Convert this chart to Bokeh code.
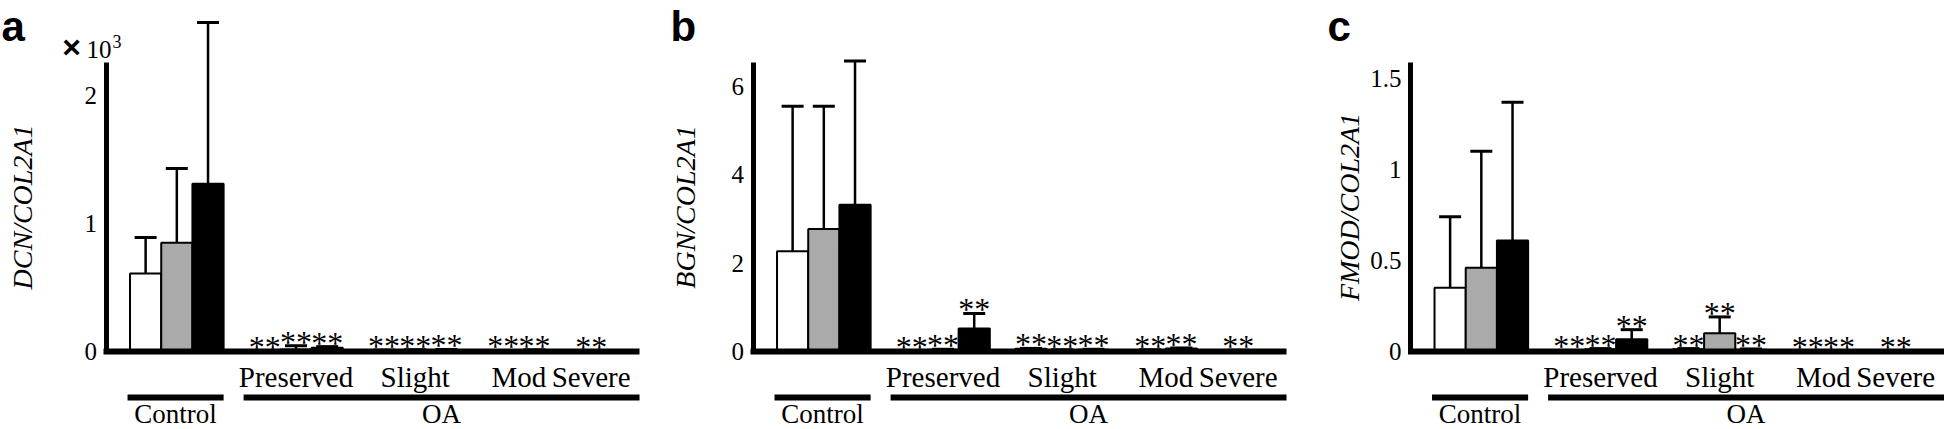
from bokeh.plotting import figure
from bokeh.layouts import row
from bokeh.models import ColumnDataSource, Whisker, TeeHead, FixedTicker, Range1d
from bokeh.core.properties import value
from bokeh.embed import file_html
from bokeh.resources import INLINE

# ---------------- data ----------------
groups = ["Control", "Preserved", "Slight", "Mod", "Severe"]
oa_groups = ["Preserved", "Slight", "Mod", "Severe"]
top_groups = ["Control", "OA"]
series_colors = ["white", "#aaaaaa", "black"]
group_series = [[0, 1, 2], [0, 1, 2], [0, 1, 2], [1, 2], [2]]

# a: DCN/COL2A1 (x10^3)
dcn_mean = [[0.61, 0.85, 1.31], [0.005, 0.015, 0.03], [0.008, 0.010, 0.012], [0.006, 0.010], [0.004]]
dcn_sd = [[0.28, 0.58, 1.26], [0.0, 0.03, 0.008], [0.003, 0.004, 0.004], [0.002, 0.003], [0.001]]
dcn_ticks = [0, 1, 2]

# b: BGN/COL2A1
bgn_mean = [[2.27, 2.77, 3.32], [0.01, 0.04, 0.52], [0.06, 0.03, 0.04], [0.03, 0.07], [0.02]]
bgn_sd = [[3.28, 2.78, 3.25], [0.0, 0.01, 0.34], [0.01, 0.01, 0.01], [0.01, 0.01], [0.01]]
bgn_ticks = [0, 2, 4, 6]

# c: FMOD/COL2A1
fmod_mean = [[0.35, 0.46, 0.61], [0.004, 0.012, 0.067], [0.012, 0.10, 0.010], [0.002, 0.003], [0.002]]
fmod_sd = [[0.39, 0.64, 0.76], [0.002, 0.004, 0.053], [0.004, 0.09, 0.004], [0.001, 0.001], [0.001]]
fmod_ticks = [0, 0.5, 1, 1.5]

# ---------------- layout constants (pixels) ----------------
BAR_PX = 31.2
GAP = 0.82
AXIS_GAP = 0.77
END_PAD = 1.05
FIG_H = 429
BASE_Y = 351
AXIS_TOP = 62
BASE_SHIFT = 0.3   # measured drop of the rendered alphabetic baseline, in em
SERIF = value("Liberation Serif")
SANS = value("Liberation Sans")


def make_panel(letter, letter_px, ylabel, means, sds, ticks, ppu, fig_w, axis_px,
               label_standoff, times10=False):
    pos = 0.0
    xs, tops, uppers, colors, starx, stary = [], [], [], [], [], []
    gstart, gend = [], []
    for gi, g in enumerate(groups):
        gstart.append(pos)
        for si, m, s in zip(group_series[gi], means[gi], sds[gi]):
            xs.append(pos + 0.5)
            tops.append(m)
            uppers.append(m + s)
            colors.append(series_colors[si])
            if gi > 0:
                starx.append(pos + 0.5)
                stary.append(m + s)
            pos += 1
        gend.append(pos)
        pos += GAP

    x_start = -AXIS_GAP - axis_px / BAR_PX
    x_end = x_start + fig_w / BAR_PX
    y_end = BASE_Y / ppu
    y_start = -(FIG_H - BASE_Y) / ppu

    def xd(px):
        return x_start + px / BAR_PX

    def yd(py):
        return (BASE_Y - py) / ppu

    p = figure(width=fig_w, height=FIG_H, x_range=Range1d(x_start, x_end),
               y_range=Range1d(y_start, y_end), output_backend="svg",
               toolbar_location=None, tools="", min_border=0, x_axis_type=None)
    p.grid.visible = False
    p.outline_line_color = None

    def label(xv, base_px, texts, fs, font=SERIF, align="center", style="normal"):
        yv = yd(base_px - BASE_SHIFT * fs)
        p.text(x=xv, y=[yv] * len(xv), text=texts, text_align=align,
               text_baseline="alphabetic", text_font=font, text_font_style=style,
               text_font_size="%dpx" % fs, text_color="black")

    src = ColumnDataSource(dict(x=xs, top=tops, upper=uppers, color=colors))
    p.vbar(x="x", top="top", bottom=0, width=1.0, source=src, fill_color="color",
           line_color="black", line_width=2)
    w = Whisker(source=src, base="x", lower="top", upper="upper", dimension="height",
                line_width=2.5, line_color="black",
                upper_head=TeeHead(size=22, line_width=3, line_color="black"), lower_head=None)
    p.add_layout(w)

    # significance stars
    p.text(x=starx, y=stary, text=["**"] * len(starx), y_offset=-4, text_align="center",
           text_baseline="alphabetic", text_font=SERIF, text_font_size="32px",
           text_color="black")

    # baseline
    base_end = gend[-1] + END_PAD
    p.segment(x0=[-AXIS_GAP - 2.5 / BAR_PX], y0=[0], x1=[base_end], y1=[0],
              line_width=6, line_color="black")

    # category labels
    oa_cx = [(gstart[i] + gend[i]) / 2 for i in range(1, len(groups))]
    label(oa_cx, 385, oa_groups, 29)

    # group bars
    bar_y = yd(397)
    bx0 = [gstart[0] - 0.08, gstart[1] - 0.18]
    bx1 = [gend[0], base_end]
    p.segment(x0=bx0, y0=[bar_y] * 2, x1=bx1, y1=[bar_y] * 2, line_width=6,
              line_color="black")
    label([(a + b) / 2 for a, b in zip(bx0, bx1)], 422, top_groups, 27)

    # panel letter
    label([xd(letter_px)], 39, [letter], 42, font=SANS, align="left", style="bold")

    if times10:
        label([xd(71)], 56, ["×"], 32, font=SANS, style="bold")
        label([xd(86)], 56, ["10"], 25, align="left")
        label([xd(112)], 46, ["3"], 18, align="left")

    ax = p.yaxis[0]
    ax.fixed_location = -AXIS_GAP
    ax.bounds = (0, (BASE_Y - AXIS_TOP) / ppu)
    ax.ticker = FixedTicker(ticks=ticks)
    ax.major_label_overrides = {float(t): ("%g" % t) for t in ticks}
    ax.axis_line_width = 5
    ax.axis_line_color = "black"
    ax.major_tick_line_color = None
    ax.minor_tick_line_color = None
    ax.major_tick_in = 0
    ax.major_tick_out = 0
    ax.major_label_standoff = 9
    ax.major_label_text_font = "Liberation Serif"
    ax.major_label_text_font_size = "25px"
    ax.major_label_text_color = "black"
    ax.axis_label = ylabel
    ax.axis_label_text_font = "Liberation Serif"
    ax.axis_label_text_font_style = "italic"
    ax.axis_label_text_font_size = "28px"
    ax.axis_label_text_color = "black"
    ax.axis_label_standoff = label_standoff
    return p


pa = make_panel("a", 1, "DCN/COL2A1", dcn_mean, dcn_sd, dcn_ticks, 128.0, 645, 105.5, 44,
                times10=True)
pb = make_panel("b", 25, "BGN/COL2A1", bgn_mean, bgn_sd, bgn_ticks, 44.2, 645, 107.5, 28)
pc = make_panel("c", 37, "FMOD/COL2A1", fmod_mean, fmod_sd, fmod_ticks, 182.0, 654, 120.0, 2)

layout = row(pa, pb, pc)
open("out.html", "w").write(file_html(layout, INLINE))
